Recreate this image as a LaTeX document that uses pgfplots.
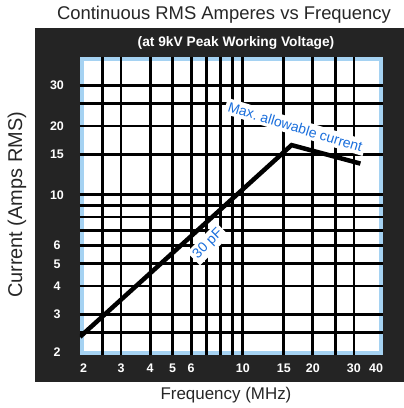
\documentclass[border=0pt]{standalone}
\usepackage{pgfplots}
\pgfplotsset{compat=1.18}
\usepackage{fontspec}
\setmainfont{Liberation Sans}
\definecolor{panel}{RGB}{36,36,36}
\definecolor{edgeblue}{RGB}{165,210,242}
\definecolor{labelblue}{RGB}{25,110,220}

\begin{document}
\begin{tikzpicture}[x=1bp,y=1bp]
\useasboundingbox (-80,-53) rectangle (324,355);
% dark panel and the plot area with its light blue rim
\fill[panel] (-45,-27) rectangle (324,327);
\fill[edgeblue] (0,0) rectangle (303,298);
\fill[white] (4,4) rectangle (299,294);
\begin{axis}[
  at={(0,0)}, anchor=south west,
  scale only axis, width=303bp, height=298bp,
  xmode=log, ymode=log,
  xmin=2, xmax=40, ymin=2, ymax=40,
  axis line style={draw=none},
  tick style={draw=none},
  major tick length=0pt, minor tick length=0pt,
  xtick={3,4,5,6,10,15,20,30},
  xticklabels={3,4,5,6,10,15,20,30},
  minor xtick={2.5,7,8,9,25},
  ytick={3,4,5,6,10,15,20,30},
  yticklabels={3,4,5,6,10,15,20,30},
  minor ytick={2.5,7,8,9,25},
  extra x ticks={2,40},
  extra x tick labels={\makebox[0pt][l]{2},\makebox[0pt][r]{40}},
  extra x tick style={grid=none},
  extra y ticks={2},
  extra y tick labels={2},
  extra y tick style={grid=none, yticklabel style={yshift=3bp}},
  grid=both,
  major grid style={black, line width=2.8bp},
  minor grid style={black, line width=2.8bp},
  /pgf/number format/assume math mode=true,
  ticklabel style={text=white, font=\bfseries\fontsize{12.5}{14}\selectfont},
  xticklabel style={anchor=center, yshift=-13bp},
  yticklabel style={anchor=center, xshift=-23bp},
]
\addplot[black, line width=4.5bp, line cap=butt, line join=miter]
  coordinates {(2,2.4)(16.2,16.5)(32,13.7)};
\coordinate (maxlab) at (axis cs:16.8,19.8);
\coordinate (pflab) at (axis cs:7.1,6.1);
\end{axis}
\begin{scope}[every node/.style={fill=white, text=labelblue, inner sep=3bp,
      font=\fontsize{14}{16}\selectfont}]
\node[rotate=-17] at (maxlab) {Max.\ allowable current};
\node[rotate=45] at (pflab) {30 pF};
\end{scope}
\node[font=\fontsize{18.5}{20}\selectfont, text=black!85] at (144,340) {Continuous RMS Amperes vs Frequency};
\node[font=\bfseries\fontsize{13.8}{16}\selectfont, text=white] at (156,312) {(at 9kV Peak Working Voltage)};
\node[rotate=90, font=\fontsize{20}{22}\selectfont, text=black!85] at (-63,150) {Current (Amps RMS)};
\node[font=\fontsize{17}{19}\selectfont, text=black!85] at (146,-40) {Frequency (MHz)};
\end{tikzpicture}
\end{document}
